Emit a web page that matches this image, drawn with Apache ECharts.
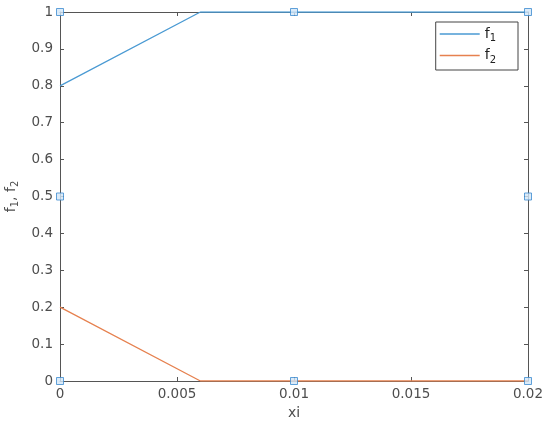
<!DOCTYPE html>
<html>
<head>
<meta charset="utf-8">
<script src="https://cdn.jsdelivr.net/npm/echarts@6/dist/echarts.min.js"></script>
<style>
  html, body { margin: 0; padding: 0; background: #fff; }
  #chart { width: 550px; height: 427px; }
</style>
</head>
<body>
<div id="chart"></div>
<script>
  // data
  var xi = [0, 0.006, 0.02];
  var f1 = [0.8, 1, 1];
  var f2 = [0.2, 0, 0];
  // the little square handles around the axes box
  var handleX = [0, 0.01, 0.02, 0, 0.02, 0, 0.01, 0.02];
  var handleY = [1, 1, 1, 0.5, 0.5, 0, 0, 0];

  var axisGrey = '#555555';
  var textGrey = '#4d4d4d';
  var blue = '#4a9ad3';
  var orange = '#e6814f';

  function pairs (xs, ys) {
    return xs.map(function (x, i) { return [x, ys[i]]; });
  }

  var tick = { show: true, inside: true, length: 4, lineStyle: { color: axisGrey } };
  var line = { show: true, onZero: false, lineStyle: { color: axisGrey, width: 1 } };

  var chart = echarts.init(document.getElementById('chart'));
  chart.setOption({
    animation: false,
    grid: { left: 60, right: 22, top: 12, bottom: 46, containLabel: false, outerBoundsMode: 'none' },
    legend: {
      data: [
        { name: 'f1', icon: 'path://M0,0H40V1.5H0Z', itemStyle: { color: blue } },
        { name: 'f2', icon: 'path://M0,0H40V1.5H0Z', itemStyle: { color: orange } }
      ],
      orient: 'vertical',
      right: 32,
      top: 22,
      padding: [5, 22, 5, 4],
      itemGap: 5,
      itemWidth: 40,
      itemHeight: 1.5,
      borderColor: '#444',
      borderWidth: 1,
      backgroundColor: '#fff',
      formatter: function (name) {
        return '{a|f}{b|' + name.slice(1) + '}';
      },
      textStyle: {
        rich: {
          a: { fontSize: 14, color: '#222', fontFamily: 'DejaVu Sans' },
          b: { fontSize: 10, color: '#222', fontFamily: 'DejaVu Sans', verticalAlign: 'bottom', padding: [9, 0, 0, 0] }
        }
      }
    },
    xAxis: [{
      type: 'value', min: 0, max: 0.02, interval: 0.005,
      name: 'xi', nameLocation: 'middle', nameGap: 23,
      nameTextStyle: { color: textGrey, fontSize: 14, fontFamily: 'DejaVu Sans' },
      axisLine: line, axisTick: tick, splitLine: { show: false },
      axisLabel: { color: textGrey, fontSize: 13.5, fontFamily: 'DejaVu Sans', margin: 6,
        formatter: function (v) { return String(+v.toFixed(3)); } }
    }, {
      type: 'value', min: 0, max: 0.02, interval: 0.005, position: 'top',
      axisLine: line, axisTick: tick, splitLine: { show: false }, axisLabel: { show: false }
    }],
    yAxis: [{
      type: 'value', min: 0, max: 1, interval: 0.1,
      name: '{a|f}{b|1}{a|, f}{b|2}', nameLocation: 'middle', nameGap: 29,
      nameTextStyle: {
        color: textGrey,
        rich: {
          a: { fontSize: 14, color: textGrey, fontFamily: 'DejaVu Sans' },
          b: { fontSize: 10, color: textGrey, fontFamily: 'DejaVu Sans', verticalAlign: 'bottom', padding: [9, 0, 0, 0] }
        }
      },
      axisLine: line, axisTick: tick, splitLine: { show: false },
      axisLabel: { color: textGrey, fontSize: 13.5, fontFamily: 'DejaVu Sans', margin: 7,
        formatter: function (v) { return String(+v.toFixed(1)); } }
    }, {
      type: 'value', min: 0, max: 1, interval: 0.1, position: 'right',
      axisLine: line, axisTick: tick, splitLine: { show: false }, axisLabel: { show: false }
    }],
    series: [{
      name: 'f1', type: 'line', data: pairs(xi, f1),
      symbol: 'none', lineStyle: { color: blue, width: 1.3 }, itemStyle: { color: blue }, z: 3
    }, {
      name: 'f2', type: 'line', data: pairs(xi, f2),
      symbol: 'none', lineStyle: { color: orange, width: 1.3 }, itemStyle: { color: orange }, z: 3
    }, {
      name: 'handles', type: 'scatter', data: pairs(handleX, handleY),
      symbol: 'rect', symbolSize: 7, silent: true, z: 5,
      itemStyle: { color: '#d2e6f7', borderColor: '#3b8bd0', borderWidth: 1 }
    }]
  });
</script>
</body>
</html>
